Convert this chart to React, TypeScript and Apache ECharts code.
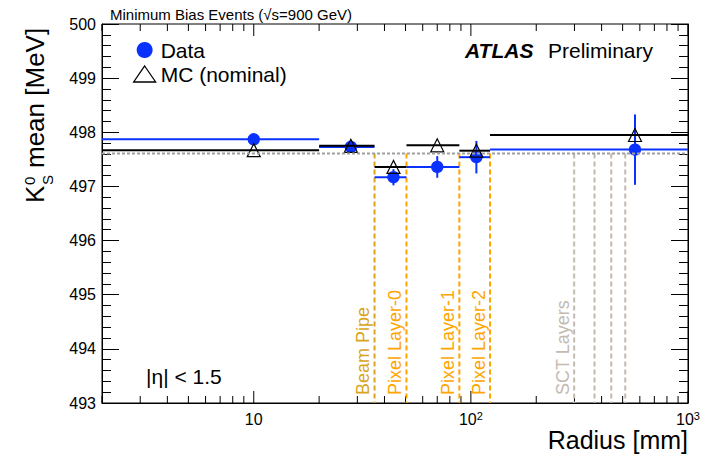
import React, { useEffect, useRef } from 'react';
import * as echarts from 'echarts';

const FONT = '"Liberation Sans", Arial, Helvetica, sans-serif';

// Bins in radius [mm]
const binLow = [2, 20, 36, 50.5, 88.5, 122.5];
const binHigh = [20, 36, 50.5, 88.5, 122.5, 1000];
const binCenter = [10, 28, 44, 70, 106, 570];
// K0S mean mass [MeV]
const dataMean = [497.87, 497.73, 497.17, 497.36, 497.54, 497.68];
const dataErr = [0.05, 0.07, 0.15, 0.2, 0.3, 0.65];
const mcMean = [497.67, 497.75, 497.36, 497.76, 497.66, 497.95];
const refMass = 497.61;
// detector layers
const layerRadius = [36, 50.5, 88.5, 122.5, 299, 371, 443, 514];
const layerName = ['Beam Pipe', 'Pixel Layer-0', 'Pixel Layer-1', 'Pixel Layer-2', 'SCT Layers', '', '', ''];
const layerKind = [0, 1, 1, 1, 2, 2, 2, 2];
// x-axis tick positions
const xTickValues = [2, 3, 4, 5, 6, 7, 8, 9, 10, 20, 30, 40, 50, 60, 70, 80, 90, 100, 200, 300, 400, 500, 600, 700, 800, 900, 1000];
const yMin = 493;
const yMax = 500;

const BLUE = '#0a32ff';
const layerColors = ['#d9a51c', '#ffa500', '#c4bab0'];

export default function App() {
  const ref = useRef<HTMLDivElement>(null);
  useEffect(() => {
    if (!ref.current) return;
    const chart = echarts.init(ref.current, null, { renderer: 'svg', width: 707, height: 461 });

    const binData = binLow.map((lo, i) => [lo, binHigh[i], binCenter[i], dataMean[i], dataErr[i]]);
    const mcData = binLow.map((lo, i) => [lo, binHigh[i], binCenter[i], mcMean[i]]);
    const layerData = layerRadius.map((r, i) => [r, layerKind[i], i]);
    const tickData = xTickValues.map((v) => [v, yMin]);

    const isMajor = (v: number) => {
      const p = Math.round(Math.log10(v));
      return Math.abs(v - Math.pow(10, p)) < 1e-9;
    };

    const yAxisCommon = {
      type: 'value',
      min: yMin,
      max: yMax,
      interval: 1,
      splitLine: { show: false },
      axisLine: { show: true, lineStyle: { color: '#000', width: 1 } },
      axisTick: { show: true, inside: true, length: 17, lineStyle: { color: '#000', width: 1 } },
      minorTick: { show: true, splitNumber: 5, length: 9, lineStyle: { color: '#000', width: 1 } },
    };

    const option: any = {
      animation: false,
      backgroundColor: '#fff',
      grid: { left: 102, right: 19, top: 24, bottom: 58, show: true, borderColor: '#000', borderWidth: 1, backgroundColor: 'transparent' },
      legend: {
        left: 133,
        top: 39,
        orient: 'vertical',
        itemWidth: 22,
        itemHeight: 16,
        itemGap: 2,
        padding: 0,
        selectedMode: false,
        textStyle: { fontSize: 21, fontFamily: FONT, color: '#000', lineHeight: 22 },
        data: [
          { name: 'Data', icon: 'circle', itemStyle: { color: BLUE, borderWidth: 0 } },
          { name: 'MC (nominal)', icon: 'triangle', itemStyle: { color: 'rgba(255,255,255,0)', borderColor: '#000', borderWidth: 1.3 } },
        ],
      },
      xAxis: {
        type: 'log',
        logBase: 10,
        min: 2,
        max: 1000,
        splitLine: { show: false },
        axisLine: { show: true, lineStyle: { color: '#000', width: 1 } },
        axisTick: { show: false },
        minorTick: { show: false },
        axisLabel: {
          show: true,
          showMinLabel: false,
          margin: 7,
          color: '#000',
          fontSize: 16,
          fontFamily: FONT,
          formatter: (v: number) => {
            if (!isMajor(v)) return '';
            const p = Math.round(Math.log10(v));
            if (p < 1) return '';
            if (p === 1) return '{b|10}';
            return '{b|10}{sup|' + p + '}';
          },
          rich: {
            b: { fontSize: 16, fontFamily: FONT, color: '#000', lineHeight: 18 },
            sup: { fontSize: 11, fontFamily: FONT, color: '#000', lineHeight: 9, verticalAlign: 'top' },
          },
        },
      },
      yAxis: [
        {
          ...yAxisCommon,
          position: 'left',
          axisLabel: { show: true, margin: 6, color: '#000', fontSize: 16, fontFamily: FONT },
        },
        {
          ...yAxisCommon,
          position: 'right',
          axisLabel: { show: false },
        },
      ],
      series: [
        {
          name: 'xticks',
          type: 'custom',
          silent: true,
          data: tickData,
          renderItem: (params: any, api: any) => {
            const v = api.value(0);
            const p = api.coord([v, yMin]);
            const cs = params.coordSys;
            const len = isMajor(v) ? 12 : 7;
            const bottom = cs.y + cs.height;
            return {
              type: 'group',
              children: [
                { type: 'line', shape: { x1: p[0], y1: bottom, x2: p[0], y2: bottom - len }, style: { stroke: '#000', lineWidth: 1 } },
                { type: 'line', shape: { x1: p[0], y1: cs.y, x2: p[0], y2: cs.y + len }, style: { stroke: '#000', lineWidth: 1 } },
              ],
            };
          },
        },
        {
          name: 'ref',
          type: 'line',
          silent: true,
          symbol: 'none',
          data: [[2, refMass], [1000, refMass]],
          lineStyle: { color: '#a0a0a0', width: 2, type: [3, 2] },
        },
        {
          name: 'layers',
          type: 'custom',
          silent: true,
          data: layerData,
          renderItem: (params: any, api: any) => {
            const r = api.value(0);
            const kind = api.value(1);
            const idx = api.value(2);
            const top = api.coord([r, refMass]);
            const bot = api.coord([r, yMin]);
            const color = layerColors[kind];
            const children: any[] = [
              { type: 'line', shape: { x1: top[0], y1: top[1], x2: bot[0], y2: bot[1] }, style: { stroke: color, lineWidth: 2, lineDash: [5, 3] } },
            ];
            const name = layerName[idx];
            if (name) {
              children.push({
                type: 'text',
                x: bot[0] - 11.5,
                y: bot[1] - 8,
                rotation: Math.PI / 2,
                style: { text: name, fill: color, font: `18px ${FONT}`, align: 'left', verticalAlign: 'middle' },
              });
            }
            return { type: 'group', children };
          },
        },
        {
          name: 'Data',
          type: 'custom',
          data: binData,
          renderItem: (params: any, api: any) => {
            const lo = api.value(0), hi = api.value(1), xc = api.value(2), y = api.value(3), e = api.value(4);
            const pL = api.coord([lo, y]);
            const pR = api.coord([hi, y]);
            const pc = api.coord([xc, y]);
            const pT = api.coord([xc, y + e]);
            const pB = api.coord([xc, y - e]);
            return {
              type: 'group',
              children: [
                { type: 'line', shape: { x1: pL[0], y1: pL[1], x2: pR[0], y2: pR[1] }, style: { stroke: BLUE, lineWidth: 2 } },
                { type: 'line', shape: { x1: pc[0], y1: pT[1], x2: pc[0], y2: pB[1] }, style: { stroke: BLUE, lineWidth: 2 } },
                { type: 'circle', shape: { cx: pc[0], cy: pc[1], r: 6.2 }, style: { fill: BLUE } },
              ],
            };
          },
        },
        {
          name: 'MC (nominal)',
          type: 'custom',
          data: mcData,
          renderItem: (params: any, api: any) => {
            const lo = api.value(0), hi = api.value(1), xc = api.value(2), y = api.value(3);
            const pL = api.coord([lo, y]);
            const pR = api.coord([hi, y]);
            const pc = api.coord([xc, y]);
            const h = 6.5;
            return {
              type: 'group',
              children: [
                { type: 'line', shape: { x1: pL[0], y1: pL[1], x2: pR[0], y2: pR[1] }, style: { stroke: '#000', lineWidth: 2 } },
                {
                  type: 'polygon',
                  shape: { points: [[pc[0], pc[1] - h], [pc[0] - h, pc[1] + h], [pc[0] + h, pc[1] + h]] },
                  style: { fill: 'none', stroke: '#000', lineWidth: 1.2 },
                },
              ],
            };
          },
        },
      ],
      graphic: [
        { type: 'text', x: 110, y: 14, style: { text: 'Minimum Bias Events (√s=900 GeV)', font: `15px ${FONT}`, fill: '#000', verticalAlign: 'middle', align: 'left' } },
        { type: 'text', x: 465, y: 50, style: { text: 'ATLAS', font: `italic bold 21px ${FONT}`, fill: '#000', verticalAlign: 'middle', align: 'left' } },
        { type: 'text', x: 548, y: 50, style: { text: 'Preliminary', font: `21px ${FONT}`, fill: '#000', verticalAlign: 'middle', align: 'left' } },
        { type: 'text', x: 146, y: 376, style: { text: '|η| < 1.5', font: `21px ${FONT}`, fill: '#000', verticalAlign: 'middle', align: 'left' } },
        { type: 'text', x: 688, y: 440, style: { text: 'Radius [mm]', font: `25px ${FONT}`, fill: '#000', verticalAlign: 'middle', align: 'right' } },
        {
          type: 'group',
          x: 35,
          y: 203,
          rotation: Math.PI / 2,
          children: [
            { type: 'text', x: 0, y: 0, style: { text: 'K', font: `26px ${FONT}`, fill: '#000', verticalAlign: 'middle', align: 'left' } },
            { type: 'text', x: 18, y: -6, style: { text: '0', font: `15px ${FONT}`, fill: '#000', verticalAlign: 'middle', align: 'left' } },
            { type: 'text', x: 18, y: 12, style: { text: 'S', font: `15px ${FONT}`, fill: '#000', verticalAlign: 'middle', align: 'left' } },
            { type: 'text', x: 35, y: 0, style: { text: 'mean [MeV]', font: `26px ${FONT}`, fill: '#000', verticalAlign: 'middle', align: 'left' } },
          ],
        },
      ],
    };

    chart.setOption(option);
    return () => chart.dispose();
  }, []);

  return <div ref={ref} style={{ position: 'absolute', left: 0, top: 0, width: 707, height: 461 }} />;
}
